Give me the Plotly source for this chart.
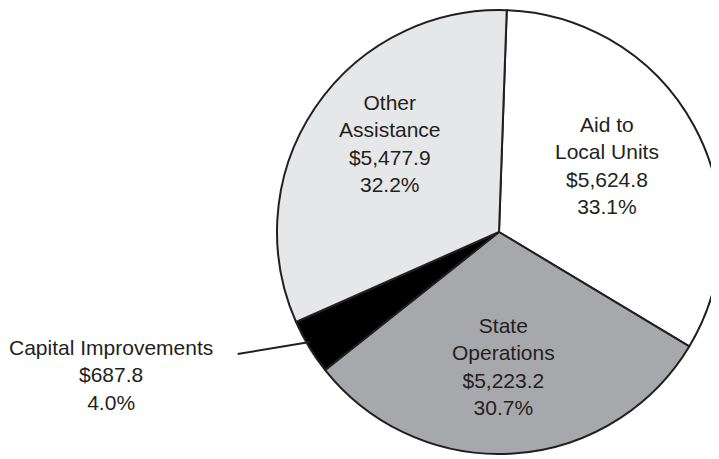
import plotly.graph_objects as go

categories = ["Aid to<br>Local Units", "State<br>Operations", "Capital Improvements", "Other<br>Assistance"]
values = [5624.8, 5223.2, 687.8, 5477.9]
colors = ["#ffffff", "#a7a8ab", "#000000", "#e6e7e8"]

total = sum(values)
pcts = [v / total * 100 for v in values]
texts = [f"{c}<br>${v:,.1f}<br>{p:.1f}%" for c, v, p in zip(categories, values, pcts)]

W, H = 719, 459
OFF = 8  # page body margin offset


def px(x):
    return (x - OFF) / W


def py(y):
    return 1 - (y - OFF) / H


fig = go.Figure(go.Pie(
    values=values,
    labels=categories,
    textinfo="none",
    sort=False,
    direction="clockwise",
    rotation=2,
    marker=dict(colors=colors, line=dict(color="#231f20", width=2)),
    domain=dict(x=[(491 - 222) / W, (491 + 222) / W], y=[(235 - 222) / H, (235 + 222) / H]),
    showlegend=False,
    hoverinfo="none",
))

font = dict(family="Liberation Sans, Arial", size=21, color="#231f20")

# inside labels
label_pos = {0: (607, 166), 1: (503, 366), 3: (390, 143)}
for i, (lx, ly) in label_pos.items():
    fig.add_annotation(x=px(lx), y=py(ly), xref="paper", yref="paper",
                       text=texts[i], showarrow=False, font=font, align="center",
                       xanchor="center", yanchor="middle")

# outside label with leader line
fig.add_annotation(
    x=px(310), y=py(342), xref="paper", yref="paper",
    ax=110.5 - 310, ay=375 - 342,
    text=texts[2],
    showarrow=True, arrowhead=0, arrowwidth=2, arrowcolor="#231f20",
    startstandoff=24,
    font=font,
    align="center",
)

fig.update_layout(
    width=W, height=H,
    margin=dict(l=0, r=0, t=0, b=0),
    paper_bgcolor="white", plot_bgcolor="white",
)

fig.write_html("out.html")
